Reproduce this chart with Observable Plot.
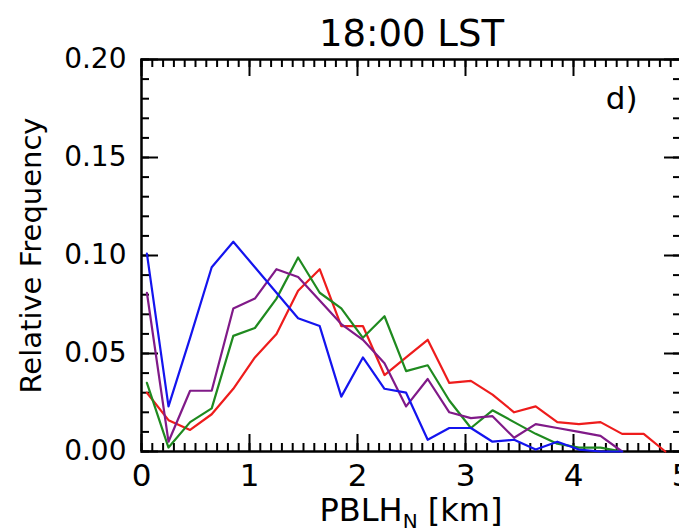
<!DOCTYPE html>
<html>
<head>
<meta charset="utf-8">
<script src="https://cdn.jsdelivr.net/npm/d3@7"></script>
<script src="https://cdn.jsdelivr.net/npm/@observablehq/plot@0.6"></script>
<style>
html, body { margin: 0; padding: 0; background: #fff; overflow: hidden; }
#chart svg { max-width: none !important; display: block; }
</style>
</head>
<body>
<div id="chart"></div>
<script>
// Bin centres of PBLH_N (km)
const pblh = [0.05, 0.25, 0.45, 0.65, 0.85, 1.05, 1.25, 1.45, 1.65, 1.85, 2.05, 2.25, 2.45,
              2.65, 2.85, 3.05, 3.25, 3.45, 3.65, 3.85, 4.05, 4.25, 4.45, 4.65, 4.85];

const redFreq = [0.030, 0.016, 0.011, 0.019, 0.032, 0.048, 0.060, 0.082, 0.093, 0.064, 0.064, 0.039, 0.048,
                 0.057, 0.035, 0.036, 0.029, 0.020, 0.023, 0.015, 0.014, 0.015, 0.009, 0.009, 0.000];
const greenFreq = [0.035, 0.002, 0.015, 0.022, 0.059, 0.063, 0.078, 0.099, 0.081, 0.073, 0.058, 0.069, 0.041,
                   0.044, 0.026, 0.012, 0.021, 0.015, 0.009, 0.004, 0.002, 0.002, 0.000, null, null];
const purpleFreq = [0.081, 0.005, 0.031, 0.031, 0.073, 0.078, 0.093, 0.089, 0.077, 0.065, 0.057, 0.045, 0.023,
                    0.037, 0.020, 0.017, 0.018, 0.007, 0.014, 0.012, 0.010, 0.008, 0.000, null, null];
const blueFreq = [0.101, 0.023, 0.058, 0.094, 0.107, 0.094, 0.081, 0.068, 0.064, 0.028, 0.048, 0.032, 0.030,
                  0.006, 0.012, 0.012, 0.005, 0.006, 0.001, 0.005, 0.001, 0.000, 0.000, null, null];

const seriesColors = ["#ee1c1c", "#1f8a1f", "#801a88", "#1414ee"];
const seriesValues = [redFreq, greenFreq, purpleFreq, blueFreq];

const xMajor = [0, 1, 2, 3, 4, 5];
const xMinor = d3.range(0, 51).map(i => i / 10);
const yMajor = [0, 0.05, 0.10, 0.15, 0.20];
const yMinor = d3.range(0, 21).map(i => i / 100);

const titleText = "18:00 LST";
const yLabelText = "Relative Frequency";
const panelText = "d)";

const font = "DejaVu Sans";
const tickW = 2;
const xLo = () => 0, xHi = () => 5, yLo = () => 0, yHi = () => 0.2;

const lineMarks = seriesValues.map((vals, s) =>
  Plot.line(vals.map((v, i) => ({x: pblh[i], y: v})).filter(d => d.y != null),
            {x: "x", y: "y", stroke: seriesColors[s], strokeWidth: 2.2}));

const plot = Plot.plot({
  width: 684,
  height: 531,
  marginLeft: 141,
  marginRight: 3,
  marginTop: 59,
  marginBottom: 80,
  style: {fontFamily: font, color: "#000", background: "#fff"},
  x: {domain: [0, 5]},
  y: {domain: [0, 0.2]},
  marks: [
    Plot.axisX(xMajor, {tickSize: 0, tickPadding: 12, fontSize: 31, tickFormat: d => String(d), label: null}),
    Plot.axisY(yMajor, {tickSize: 0, tickPadding: 15, fontSize: 28, tickFormat: d3.format(".2f"), label: null}),
    // bottom ticks (inward, pointing up)
    Plot.ruleX(xMinor, {x: d => d, y1: yLo, y2: yLo, insetTop: -8, strokeWidth: tickW, stroke: "#000"}),
    Plot.ruleX(xMajor, {x: d => d, y1: yLo, y2: yLo, insetTop: -17, strokeWidth: tickW, stroke: "#000"}),
    // top ticks (pointing down)
    Plot.ruleX(xMinor, {x: d => d, y1: yHi, y2: yHi, insetTop: 8, strokeWidth: tickW, stroke: "#000"}),
    Plot.ruleX(xMajor, {x: d => d, y1: yHi, y2: yHi, insetTop: 17, strokeWidth: tickW, stroke: "#000"}),
    // left ticks (pointing right)
    Plot.ruleY(yMinor, {y: d => d, x1: xLo, x2: xLo, insetLeft: 8, strokeWidth: tickW, stroke: "#000"}),
    Plot.ruleY(yMajor, {y: d => d, x1: xLo, x2: xLo, insetLeft: 17, strokeWidth: tickW, stroke: "#000"}),
    // right ticks (pointing left)
    Plot.ruleY(yMinor, {y: d => d, x1: xHi, x2: xHi, insetLeft: -8, strokeWidth: tickW, stroke: "#000"}),
    Plot.ruleY(yMajor, {y: d => d, x1: xHi, x2: xHi, insetLeft: -17, strokeWidth: tickW, stroke: "#000"}),
    Plot.frame({stroke: "#000", strokeWidth: 2.5}),
    ...lineMarks,
    Plot.text([titleText], {frameAnchor: "top", dy: -25, fontSize: 37, lineAnchor: "middle"}),
    Plot.text([yLabelText], {frameAnchor: "left", rotate: -90, dx: -110, fontSize: 29, textAnchor: "middle", lineAnchor: "middle"}),
    Plot.text([panelText], {frameAnchor: "top-right", dx: -44, dy: 27, fontSize: 31, textAnchor: "end", lineAnchor: "top"})
  ]
});

// x-axis label with subscript N
const xs = plot.scale("x");
const ys = plot.scale("y");
const lab = d3.select(plot).append("text")
  .attr("x", xs.apply(2.5))
  .attr("y", ys.apply(0) + 70)
  .attr("text-anchor", "middle")
  .attr("font-family", font)
  .attr("font-size", 32)
  .attr("fill", "#000");
lab.append("tspan").text("PBLH");
lab.append("tspan").attr("dy", 7).attr("font-size", 20).text("N");
lab.append("tspan").attr("dy", -7).text(" [km]");

document.getElementById("chart").appendChild(plot);
</script>
</body>
</html>
